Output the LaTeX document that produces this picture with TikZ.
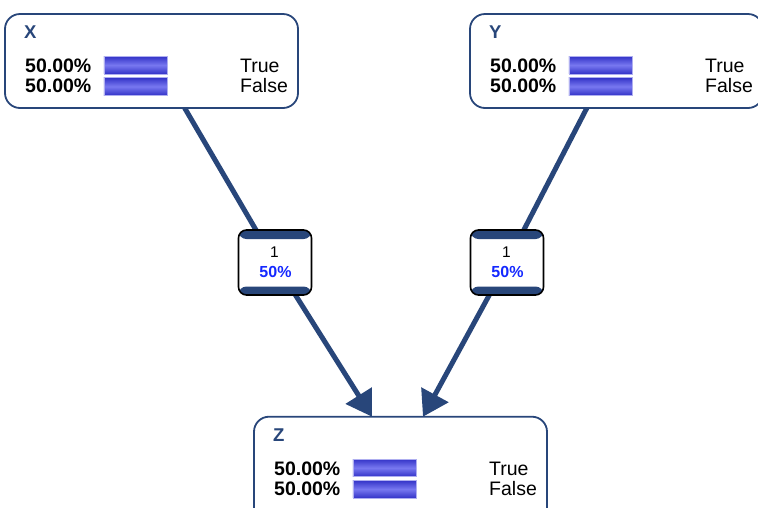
\documentclass[tikz,border=0pt]{standalone}
\usepackage{fontspec}
\setmainfont{Liberation Sans}
\usetikzlibrary{arrows.meta}
\definecolor{navy}{RGB}{40,70,122}
\definecolor{bardark}{RGB}{52,52,200}
\definecolor{barlight}{RGB}{120,120,240}
\definecolor{barborder}{RGB}{175,175,240}
\definecolor{pctblue}{RGB}{20,40,255}
\tikzset{
  bigbox/.style={draw=navy, line width=1.8pt, fill=white, rounded corners=15pt},
  conn/.style={draw=navy, line width=5pt},
  titletext/.style={inner sep=0pt, anchor=base west, text=navy, font=\fontsize{18.5}{20}\selectfont\bfseries},
  pcttext/.style={inner sep=0pt, anchor=base west, font=\fontsize{19.5}{22}\selectfont\bfseries},
  statetext/.style={inner sep=0pt, anchor=base west, font=\fontsize{19.5}{22}\selectfont},
  bar/.style={inner sep=0pt, anchor=north west, minimum width=63.5pt, minimum height=17.5pt,
    draw=barborder, line width=0.8pt, top color=bardark, bottom color=bardark, middle color=barlight},
  smallbox/.style={draw=black, line width=1.6pt, fill=white, rounded corners=8pt,
    minimum width=73pt, minimum height=65pt, inner sep=0pt,
    path picture={
      \fill[navy] (path picture bounding box.north west) rectangle ([yshift=-9pt]path picture bounding box.north east);
      \fill[navy] (path picture bounding box.south west) rectangle ([yshift=8.5pt]path picture bounding box.south east);
    }},
  onetext/.style={inner sep=0pt, anchor=base, font=\fontsize{15.5}{18}\selectfont},
  smallpct/.style={inner sep=0pt, anchor=base, text=pctblue, font=\fontsize{16}{18}\selectfont\bfseries},
}
\newcommand{\bnbox}[5]{%
  \path[bigbox] (#2,#3) rectangle ++(293,#5);
  \node[inner sep=0pt, minimum width=293pt, minimum height=#5pt, anchor=north west] (#1) at (#2,#3) {};
  \node[titletext] (#1-title) at (#2+19,#3+24.5) {#4};
  \node[pcttext] (#1-p1) at (#2+20,#3+58.7) {50.00\%};
  \node[pcttext] (#1-p2) at (#2+20,#3+78.7) {50.00\%};
  \node[bar] (#1-b1) at (#2+98.5,#3+42) {};
  \node[bar] (#1-b2) at (#2+98.5,#3+63.3) {};
  \node[statetext] (#1-s1) at (#2+235,#3+58.7) {True};
  \node[statetext] (#1-s2) at (#2+235,#3+78.7) {False};
}
\begin{document}
\begin{tikzpicture}[x=1pt, y=-1pt]
\useasboundingbox (0,0) rectangle (758,507);
\clip (0,0) rectangle (758,507);
\fill[white] (0,0) rectangle (758,507);
\coordinate (xa) at (180,100);
\coordinate (ya) at (591,100);
\coordinate (zl) at (372,416.7);
\coordinate (zr) at (423,416.7);
\coordinate (sxc) at (275,262.5);
\coordinate (syc) at (507,262.5);
\draw[conn] (xa) -- (sxc);
\draw[conn, -{Triangle[length=25pt,width=30pt]}] (sxc) -- (zl);
\draw[conn] (ya) -- (syc);
\draw[conn, -{Triangle[length=25pt,width=30pt]}] (syc) -- (zr);
\bnbox{X}{5}{14}{X}{94}
\bnbox{Y}{470}{14}{Y}{94}
\bnbox{Z}{254}{416.7}{Z}{110}
\node[smallbox] (sx) at (sxc) {};
\node[onetext] (sx-1) at (274.5,257.5) {1};
\node[smallpct] (sx-p) at (275.5,277.5) {50\%};
\node[smallbox] (sy) at (syc) {};
\node[onetext] (sy-1) at (506.5,257.5) {1};
\node[smallpct] (sy-p) at (507.5,277.5) {50\%};
\end{tikzpicture}
\end{document}
